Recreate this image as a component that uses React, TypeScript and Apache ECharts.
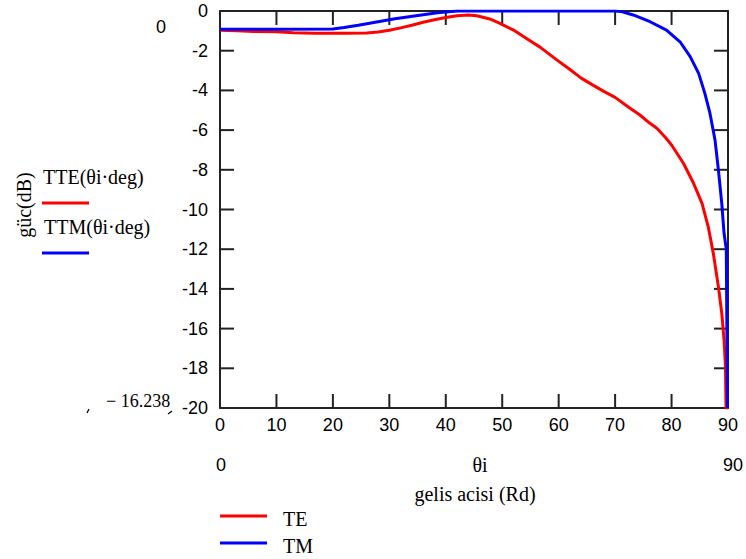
import React, { useEffect, useRef } from "react";
import * as echarts from "echarts";

// TE (red) transmission, dB vs incidence angle (deg)
const teAngles = [0, 3, 6, 10, 13, 17, 22, 26, 28, 30, 32, 34, 36, 38, 40, 42, 44, 45.5, 47.8, 49.6, 52, 54.3, 56.7, 59.6, 62, 64, 66, 68, 70, 72.4, 74.4, 76, 77.4, 79, 80, 82.1, 83.9, 85.4, 86.5, 87.4, 88.3, 88.9, 89.3, 89.55, 89.65, 90];
const teValues = [-0.97, -1.0, -1.03, -1.05, -1.1, -1.12, -1.12, -1.11, -1.06, -0.97, -0.85, -0.72, -0.57, -0.44, -0.33, -0.24, -0.2, -0.24, -0.4, -0.62, -0.96, -1.38, -1.82, -2.45, -2.95, -3.38, -3.72, -4.05, -4.35, -4.85, -5.24, -5.62, -5.91, -6.4, -6.75, -7.67, -8.68, -9.69, -10.87, -12.21, -13.89, -15.23, -16.57, -17.9, -20, -20];

// TM (blue) transmission, dB vs incidence angle (deg)
const tmAngles = [0, 10, 20, 22, 24.5, 27, 29, 31, 33.5, 36, 38.5, 41, 42, 50, 60, 70, 71, 73.2, 76.2, 79.1, 81.5, 83.3, 84.8, 85.9, 86.8, 87.7, 88.3, 88.9, 89.3, 89.7, 89.9, 90];
const tmValues = [-0.92, -0.92, -0.91, -0.83, -0.72, -0.59, -0.49, -0.39, -0.29, -0.19, -0.09, -0.02, 0, 0, 0, 0, -0.02, -0.2, -0.54, -0.96, -1.55, -2.3, -3.14, -4.15, -5.15, -6.5, -8.0, -9.7, -11.2, -12.0, -20, -20];

// axis tick values
const xTickValues = [0, 10, 20, 30, 40, 50, 60, 70, 80, 90];
const yTickValues = [-20, -18, -16, -14, -12, -10, -8, -6, -4, -2, 0];

const xTicks = { min: 0, max: 90, interval: 10 };
const yTicks = { min: -20, max: 0, interval: 2 };

const SANS = "Liberation Sans";
const SERIF = "Liberation Serif";
const AXIS_COLOR = "#222";
const TICK_LEN = 14;

const mkLine = () => ({ show: true, onZero: false, lineStyle: { color: AXIS_COLOR, width: 2 } });

export default function App() {
  const ref = useRef<HTMLDivElement>(null);
  useEffect(() => {
    if (!ref.current) return;
    const chart = echarts.init(ref.current, undefined, { renderer: "svg" });
    const teData = teAngles.map((a, i) => [a, teValues[i]]);
    const tmData = tmAngles.map((a, i) => [a, tmValues[i]]);
    const txt = (text: string, x: number, y: number, font: string, size: number, align = "left", extra: any = {}) => ({
      type: "text",
      x,
      y,
      silent: true,
      ...extra,
      style: { text, x: 0, y: 0, fill: "#000", fontFamily: font, fontSize: size, align, verticalAlign: "middle" },
    });
    const graphics: any[] = [
      txt("0", 161, 27, SANS, 18, "center"),
      txt("− 16.238", 106, 401, SERIF, 18, "left"),
      { type: "line", silent: true, shape: { x1: 87, y1: 413, x2: 89, y2: 409 }, style: { stroke: "#000", lineWidth: 1.2 } },
      { type: "line", silent: true, shape: { x1: 168, y1: 414, x2: 172, y2: 411 }, style: { stroke: "#000", lineWidth: 1.2 } },
      txt("güc(dB)", 24, 205, SERIF, 20, "center", { rotation: Math.PI / 2 }),
      txt("TTE(θi·deg)", 43, 177, SERIF, 20, "left"),
      { type: "line", silent: true, shape: { x1: 42, y1: 203, x2: 89, y2: 203 }, style: { stroke: "#ff0000", lineWidth: 3 } },
      txt("TTM(θi·deg)", 44, 227, SERIF, 20, "left"),
      { type: "line", silent: true, shape: { x1: 42, y1: 253, x2: 89, y2: 253 }, style: { stroke: "#0000ff", lineWidth: 3 } },
      txt("0", 221, 465, SANS, 18, "center"),
      txt("θi", 480, 465, SERIF, 20, "center"),
      txt("90", 733, 465, SANS, 18, "center"),
      txt("gelis acisi (Rd)", 475, 494, SERIF, 20, "center"),
      { type: "line", silent: true, shape: { x1: 220, y1: 516, x2: 267, y2: 516 }, style: { stroke: "#ff0000", lineWidth: 3 } },
      txt("TE", 283, 519, SERIF, 20, "left"),
      { type: "line", silent: true, shape: { x1: 220, y1: 543, x2: 267, y2: 543 }, style: { stroke: "#0000ff", lineWidth: 3 } },
      txt("TM", 283, 546, SERIF, 20, "left"),
    ];
    const tickStyle = { stroke: AXIS_COLOR, lineWidth: 2 };
    const option: any = {
      animation: false,
      backgroundColor: "#fff",
      grid: { left: 220, top: 11, width: 508, height: 397, containLabel: false, show: false },
      xAxis: [
        {
          type: "value", ...xTicks, position: "bottom", axisLine: mkLine(), axisTick: { show: false },
          axisLabel: { show: true, color: "#000", fontFamily: SANS, fontSize: 18, margin: 8 },
          splitLine: { show: false },
        },
        {
          type: "value", ...xTicks, position: "top", axisLine: mkLine(), axisTick: { show: false },
          axisLabel: { show: false }, splitLine: { show: false },
        },
      ],
      yAxis: [
        {
          type: "value", ...yTicks, position: "left", axisLine: mkLine(), axisTick: { show: false },
          axisLabel: { show: true, color: "#000", fontFamily: SANS, fontSize: 18, margin: 12 },
          splitLine: { show: false },
        },
        {
          type: "value", ...yTicks, position: "right", axisLine: mkLine(), axisTick: { show: false },
          axisLabel: { show: false }, splitLine: { show: false },
        },
      ],
      series: [
        {
          name: "xticks", type: "custom", coordinateSystem: "cartesian2d", xAxisIndex: 0, yAxisIndex: 0,
          data: xTickValues.map((v) => [v, yTicks.min]), clip: false, silent: true, z: 2,
          renderItem: (params: any, api: any) => {
            const x = api.coord([api.value(0), yTicks.min])[0];
            const yb = api.coord([xTicks.min, yTicks.min])[1];
            const yt = api.coord([xTicks.min, yTicks.max])[1];
            return {
              type: "group",
              children: [
                { type: "line", shape: { x1: x, y1: yb, x2: x, y2: yb - TICK_LEN }, style: tickStyle },
                { type: "line", shape: { x1: x, y1: yt, x2: x, y2: yt + TICK_LEN }, style: tickStyle },
              ],
            };
          },
        },
        {
          name: "yticks", type: "custom", coordinateSystem: "cartesian2d", xAxisIndex: 0, yAxisIndex: 0,
          data: yTickValues.map((v) => [xTicks.min, v]), clip: false, silent: true, z: 2,
          renderItem: (params: any, api: any) => {
            const y = api.coord([xTicks.min, api.value(1)])[1];
            const xl = api.coord([xTicks.min, yTicks.min])[0];
            const xr = api.coord([xTicks.max, yTicks.min])[0];
            return {
              type: "group",
              children: [
                { type: "line", shape: { x1: xl, y1: y, x2: xl + TICK_LEN, y2: y }, style: tickStyle },
                { type: "line", shape: { x1: xr, y1: y, x2: xr - TICK_LEN, y2: y }, style: tickStyle },
              ],
            };
          },
        },
        {
          name: "TE", type: "line", xAxisIndex: 0, yAxisIndex: 0, data: teData, z: 3,
          showSymbol: false, clip: true, lineStyle: { color: "#ff0000", width: 3 }, itemStyle: { color: "#ff0000" },
        },
        {
          name: "TM", type: "line", xAxisIndex: 0, yAxisIndex: 0, data: tmData, z: 4,
          showSymbol: false, clip: true, lineStyle: { color: "#0000ff", width: 3 }, itemStyle: { color: "#0000ff" },
        },
      ],
      graphic: graphics,
    };
    chart.setOption(option);
    return () => chart.dispose();
  }, []);
  return (
    <div
      ref={ref}
      style={{ position: "absolute", left: 0, top: 0, width: 746, height: 559, background: "#fff" }}
    />
  );
}
